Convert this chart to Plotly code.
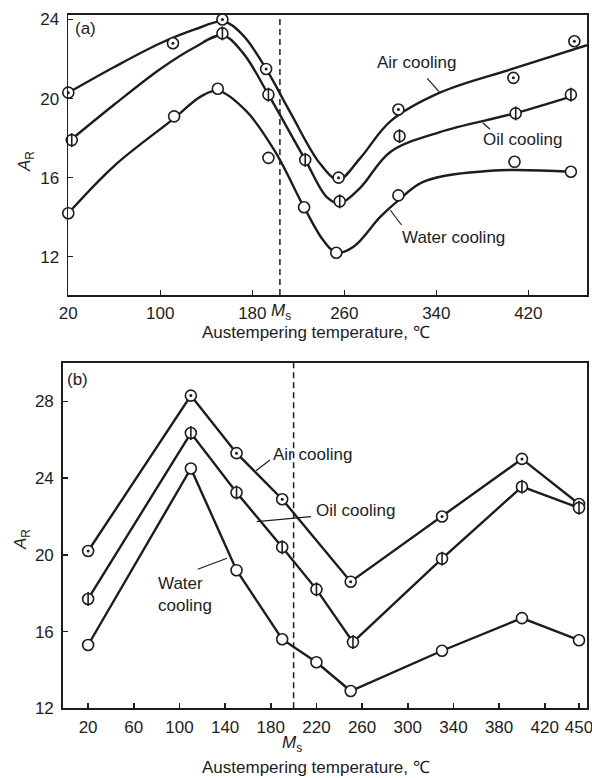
import plotly.graph_objects as go

W, H = 592, 778

# ---------------- Panel (a) data ----------------
a_air_T = [20, 111, 154, 192, 255, 307, 407, 460]
a_air_A = [20.3, 22.8, 24.0, 21.5, 16.0, 19.45, 21.05, 22.9]
a_oil_T = [23, 154, 194, 226, 256, 308, 409, 457]
a_oil_A = [17.9, 23.3, 20.2, 16.9, 14.8, 18.1, 19.25, 20.2]
a_wat_T = [20, 112, 150, 194, 225, 253, 307, 408, 457]
a_wat_A = [14.2, 19.1, 20.5, 17.0, 14.5, 12.2, 15.1, 16.8, 16.3]

# smooth fitted curves
a_air_curve_T = [20, 60, 100, 130, 155, 172, 192, 213, 239, 255, 274, 300, 343, 406, 471]
a_air_curve_A = [20.3, 21.6, 22.8, 23.5, 23.9, 23.2, 21.5, 19.3, 16.7, 15.9, 17.0, 18.85, 20.3, 21.5, 22.7]
a_oil_curve_T = [22, 60, 100, 130, 154, 172, 194, 226, 245, 256, 274, 300, 343, 408, 457]
a_oil_curve_A = [17.9, 19.7, 21.5, 22.6, 23.2, 22.3, 20.2, 16.9, 15.0, 14.7, 15.5, 17.3, 18.3, 19.25, 20.1]
a_wat_curve_T = [20, 60, 112, 135, 150, 175, 200, 225, 242, 253, 268, 291, 307, 329, 387, 457]
a_wat_curve_A = [14.2, 16.6, 19.0, 20.1, 20.4, 19.35, 17.3, 14.5, 12.8, 12.2, 12.5, 14.0, 14.85, 15.8, 16.35, 16.3]

a_xticks = [20, 100, 180, 260, 340, 420]
a_yticks = [12, 16, 20, 24]
ms_a = 204

# ---------------- Panel (b) data ----------------
b_air_T = [20, 110, 150, 190, 250, 330, 400, 450]
b_air_A = [20.2, 28.3, 25.3, 22.9, 18.6, 22.0, 25.0, 22.65]
b_oil_T = [20, 110, 150, 190, 220, 252, 330, 400, 450]
b_oil_A = [17.7, 26.35, 23.25, 20.4, 18.2, 15.45, 19.8, 23.55, 22.45]
b_wat_T = [20, 110, 150, 190, 220, 250, 330, 400, 450]
b_wat_A = [15.3, 24.5, 19.2, 15.6, 14.4, 12.9, 15.0, 16.7, 15.55]

b_xticks = [20, 60, 100, 140, 180, 220, 260, 300, 340, 380, 420, 450]
b_yticks = [12, 16, 20, 24, 28]
ms_b = 200

# ---------------- styling ----------------
INK = "#1d1d1d"
FONT = "Liberation Sans, Arial, sans-serif"
FS = 17
LW = 2.4
MS = 11


def px(x):
    return x / W


def py(y):
    return 1 - y / H


fig = go.Figure()


def add_markers(T, A, kind, xa, ya):
    fig.add_trace(go.Scatter(
        x=T, y=A, mode="markers", xaxis=xa, yaxis=ya, cliponaxis=False,
        marker=dict(symbol="circle", size=MS, color="white",
                    line=dict(color=INK, width=1.6)),
        showlegend=False, hoverinfo="skip"))
    if kind == "air":
        fig.add_trace(go.Scatter(
            x=T, y=A, mode="markers", xaxis=xa, yaxis=ya, cliponaxis=False,
            marker=dict(symbol="circle", size=3, color=INK),
            showlegend=False, hoverinfo="skip"))
    elif kind == "oil":
        fig.add_trace(go.Scatter(
            x=T, y=A, mode="markers", xaxis=xa, yaxis=ya, cliponaxis=False,
            marker=dict(symbol="line-ns", size=MS - 1, color=INK,
                        line=dict(color=INK, width=1.6)),
            showlegend=False, hoverinfo="skip"))


# panel (a) curves
for cT, cA in [(a_air_curve_T, a_air_curve_A),
               (a_oil_curve_T, a_oil_curve_A),
               (a_wat_curve_T, a_wat_curve_A)]:
    fig.add_trace(go.Scatter(x=cT, y=cA, mode="lines", xaxis="x", yaxis="y",
                             line=dict(color=INK, width=LW, shape="spline", smoothing=1.0),
                             showlegend=False, hoverinfo="skip"))
add_markers(a_air_T, a_air_A, "air", "x", "y")
add_markers(a_oil_T, a_oil_A, "oil", "x", "y")
add_markers(a_wat_T, a_wat_A, "water", "x", "y")

# panel (b) polylines
for T, A in [(b_air_T, b_air_A), (b_oil_T, b_oil_A), (b_wat_T, b_wat_A)]:
    fig.add_trace(go.Scatter(x=T, y=A, mode="lines", xaxis="x2", yaxis="y2",
                             line=dict(color=INK, width=LW),
                             showlegend=False, hoverinfo="skip"))
add_markers(b_air_T, b_air_A, "air", "x2", "y2")
add_markers(b_oil_T, b_oil_A, "oil", "x2", "y2")
add_markers(b_wat_T, b_wat_A, "water", "x2", "y2")

axis_common = dict(showline=True, linecolor=INK, linewidth=1.8, mirror=True,
                   ticks="inside", ticklen=5, tickwidth=1.5, tickcolor=INK,
                   showgrid=False, zeroline=False, automargin=False,
                   ticklabeloverflow="allow",
                   tickfont=dict(family=FONT, size=FS, color=INK))

fig.update_layout(
    template="none",
    width=W, height=H, autosize=False,
    margin=dict(l=0, r=0, t=0, b=0, pad=0),
    paper_bgcolor="white", plot_bgcolor="white",
    font=dict(family=FONT, size=FS, color=INK),
    xaxis=dict(domain=[px(68.3), px(587)], range=[20, 471], tickvals=a_xticks,
               anchor="y", ticklabelstandoff=2, **axis_common),
    yaxis=dict(domain=[py(295), py(15)], range=[10.06, 24.23], tickvals=a_yticks,
               anchor="x", ticklabelstandoff=4, **axis_common),
    xaxis2=dict(domain=[px(63), px(587)], range=[-2, 457], tickvals=b_xticks,
                anchor="y2", ticklabelstandoff=2, **axis_common),
    yaxis2=dict(domain=[py(708.3), py(363)], range=[12, 30], tickvals=b_yticks,
                anchor="x2", ticklabelstandoff=4, **axis_common),
)

shapes = []
# Ms dashed lines
shapes.append(dict(type="line", xref="x", yref="y domain", x0=ms_a, x1=ms_a, y0=0, y1=1,
                   line=dict(color=INK, width=1.5, dash="6px,4px")))
shapes.append(dict(type="line", xref="x2", yref="y2 domain", x0=ms_b, x1=ms_b, y0=0, y1=1,
                   line=dict(color=INK, width=1.5, dash="6px,4px")))
# leader lines (pixel positions of the label pointers)
leaders = [((427.3, 78.3), (439, 91.7)),
           ((482.7, 122.7), (490, 129.3)),
           ((390.2, 210), (401.5, 225)),
           ((270, 460), (256, 470.7)),
           ((311, 516.7), (256.7, 521.7)),
           ((197.7, 569.3), (227, 558.3))]
for (x0, y0), (x1, y1) in leaders:
    shapes.append(dict(type="line", xref="paper", yref="paper",
                       x0=px(x0), y0=py(y0), x1=px(x1), y1=py(y1),
                       line=dict(color=INK, width=1.2)))
fig.update_layout(shapes=shapes)

ann = []


def text(t, x, y, xa="left", rot=0, size=FS):
    ann.append(dict(text=t, x=px(x), y=py(y), xref="paper", yref="paper",
                    xanchor=xa, yanchor="middle", showarrow=False, textangle=rot,
                    align="left", font=dict(family=FONT, size=size, color=INK)))


text("(a)", 73, 29)
text("Air cooling", 375, 62)
text("Oil cooling", 481, 139)
text("Water cooling", 400, 237)
text("<i>M</i><sub>s</sub>", 281, 312, xa="center")
text("Austempering temperature, ℃", 316, 332, xa="center")
text("<i>A</i><sub>R</sub>", 26, 162, xa="center", rot=-90)

text("(b)", 65, 379)
text("Air cooling", 271, 455)
text("Oil cooling", 314, 510)
text("Water<br>cooling", 156, 594)
text("<i>M</i><sub>s</sub>", 292, 744, xa="center")
text("Austempering temperature, ℃", 316, 767, xa="center")
text("<i>A</i><sub>R</sub>", 22, 540, xa="center", rot=-90)

fig.update_layout(annotations=ann)

fig.write_html("out.html",
               config={"displayModeBar": False, "staticPlot": True},
               post_script="document.body.style.margin='0';document.body.style.padding='0';"
                           "document.documentElement.style.overflow='hidden';")
